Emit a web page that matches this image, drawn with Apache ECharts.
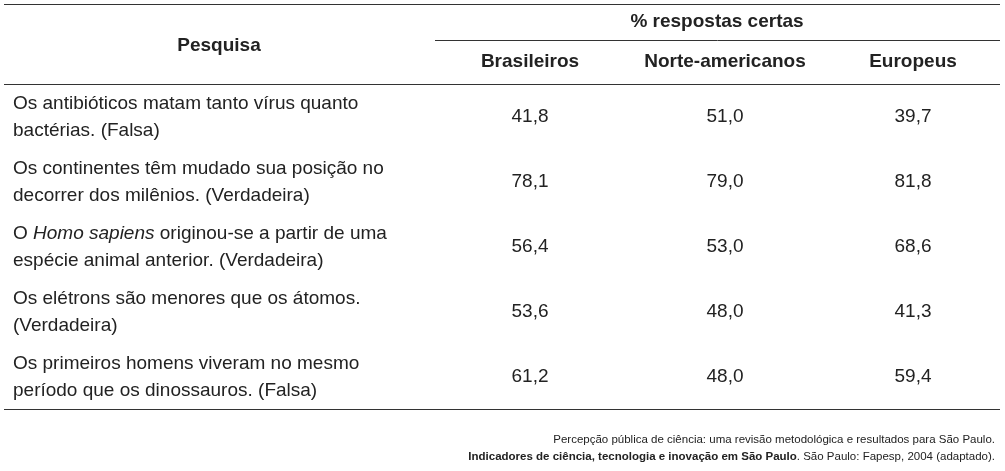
<!DOCTYPE html>
<html>
<head>
<meta charset="utf-8">
<script src="https://cdn.jsdelivr.net/npm/echarts@6/dist/echarts.min.js"></script>
<style>html,body{margin:0;background:#fff}#c{width:1005px;height:471px}</style>
</head>
<body>
<div id="c"></div>
<script>
// table data
var groupTitle = '% respostas certas'
var columns = ['Brasileiros', 'Norte-americanos', 'Europeus']
var questions = [
  ['Os antibióticos matam tanto vírus quanto', 'bactérias. (Falsa)'],
  ['Os continentes têm mudado sua posição no', 'decorrer dos milênios. (Verdadeira)'],
  ['O {i|Homo sapiens} originou-se a partir de uma', 'espécie animal anterior. (Verdadeira)'],
  ['Os elétrons são menores que os átomos.', '(Verdadeira)'],
  ['Os primeiros homens viveram no mesmo', 'período que os dinossauros. (Falsa)']
]
var brasileiros = [41.8, 78.1, 56.4, 53.6, 61.2]
var norteAmericanos = [51.0, 79.0, 53.0, 48.0, 48.0]
var europeus = [39.7, 81.8, 68.6, 41.3, 59.4]
var source = [
  'Percepção pública de ciência: uma revisão metodológica e resultados para São Paulo.',
  '{b|Indicadores de ciência, tecnologia e inovação em São Paulo}. São Paulo: Fapesp, 2004 (adaptado).'
]

var FONT = '"Liberation Sans", Arial, sans-serif'
var INK = '#222'
var FS = 19
var colX = [530, 725, 913]
var rowTop = 85, rowH = 65

function fmt(v) { return v.toFixed(1).replace('.', ',') }

function hline(x1, x2, y) {
  return { type: 'line', shape: { x1: x1, y1: y + 0.5, x2: x2, y2: y + 0.5 }, style: { stroke: '#333', lineWidth: 1 } }
}

function text(x, y, str, opts) {
  return {
    type: 'text', x: x, y: y,
    style: Object.assign({
      text: str, font: FS + 'px ' + FONT, fill: INK,
      align: 'center', verticalAlign: 'middle'
    }, opts || {})
  }
}

var BOLD = 'bold ' + FS + 'px ' + FONT
var els = [
  hline(4, 1000, 4),
  hline(435, 1000, 40),
  hline(4, 1000, 84),
  hline(4, 1000, 409),
  text(219, 46, 'Pesquisa', { font: BOLD }),
  text(717, 22, groupTitle, { font: BOLD })
]

columns.forEach(function (c, i) {
  els.push(text(colX[i], 62, c, { font: BOLD }))
})

var series = [brasileiros, norteAmericanos, europeus]
questions.forEach(function (q, r) {
  var cy = rowTop + rowH * r + 32
  els.push({
    type: 'text', x: 13, y: cy,
    style: {
      text: q.join('\n'), font: FS + 'px ' + FONT, fill: INK,
      align: 'left', verticalAlign: 'middle', lineHeight: 27,
      rich: { i: { fontStyle: 'italic', fontSize: FS, fontFamily: FONT, fill: INK, lineHeight: 27 } }
    }
  })
  series.forEach(function (s, i) {
    els.push(text(colX[i], cy, fmt(s[r])))
  })
})

els.push(text(995, 440, source[0], { align: 'right', font: '11.5px ' + FONT }))
els.push({
  type: 'text', x: 995, y: 457,
  style: {
    text: source[1], font: '11.5px ' + FONT, fill: INK, align: 'right', verticalAlign: 'middle',
    rich: { b: { fontWeight: 'bold', fontSize: 11.5, fontFamily: FONT, fill: INK } }
  }
})

var chart = echarts.init(document.getElementById('c'))
chart.setOption({ animation: false, graphic: { elements: els } })
</script>
</body>
</html>
